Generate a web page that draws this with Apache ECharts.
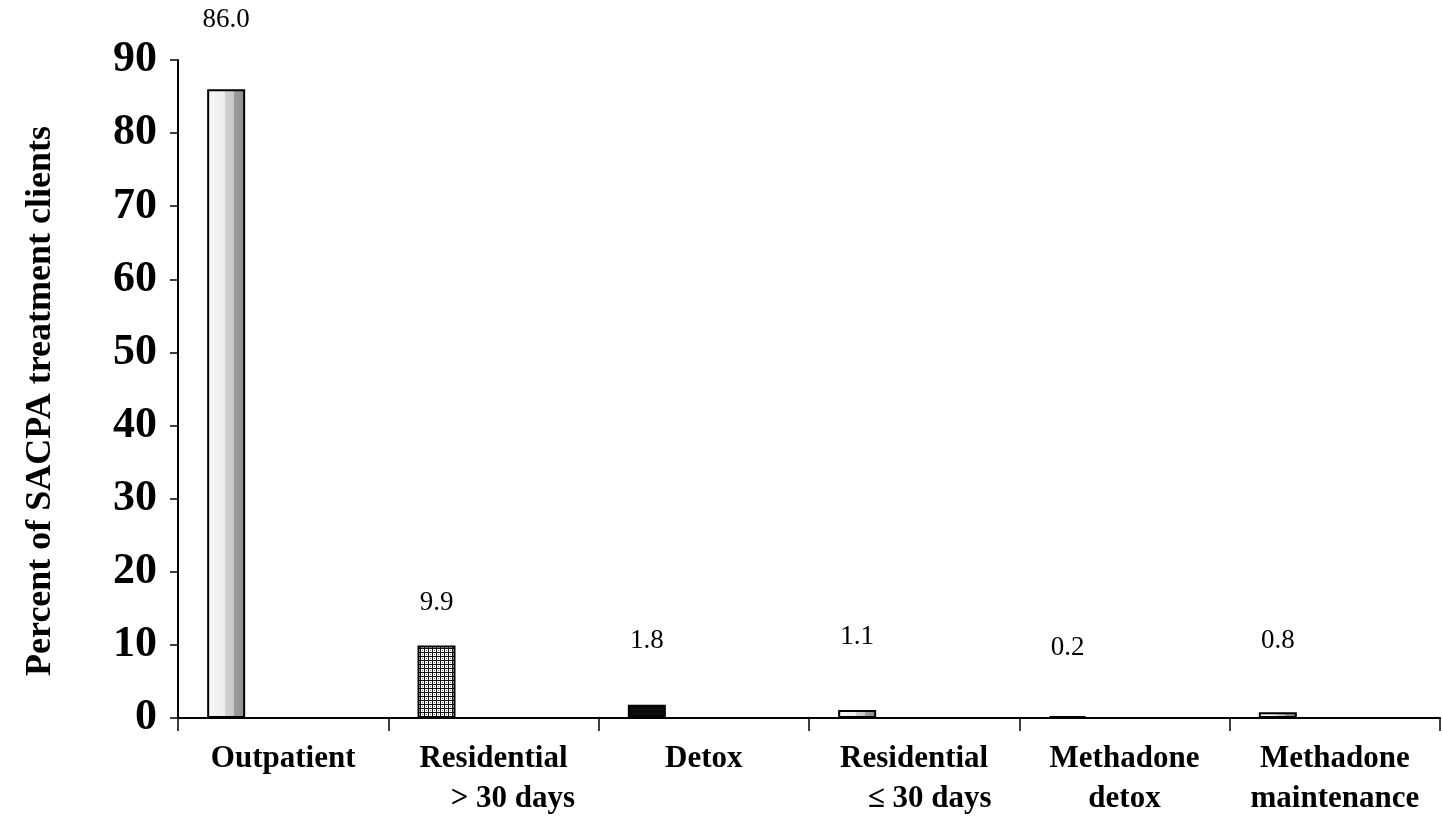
<!DOCTYPE html>
<html>
<head>
<meta charset="utf-8">
<script src="https://cdn.jsdelivr.net/npm/echarts@6/dist/echarts.min.js"></script>
<style>
html,body{margin:0;padding:0;background:#fff;}
#chart{width:1442px;height:817px;}
</style>
</head>
<body>
<div id="chart"></div>
<script>
// ---- data ----
const categories = ['Outpatient', 'Residential\n     > 30 days', 'Detox', 'Residential\n    \u2264 30 days', 'Methadone\ndetox', 'Methadone\nmaintenance'];
const percentValues = [86.0, 9.9, 1.8, 1.1, 0.2, 0.8];
const yTicks = [0, 10, 20, 30, 40, 50, 60, 70, 80, 90];

// ---- styles ----
const FONT = "'Liberation Serif','Times New Roman',serif";
function makePattern(kind) {
  const c = document.createElement('canvas');
  c.width = 4; c.height = 4;
  const g = c.getContext('2d');
  if (kind === 'grid') {
    g.fillStyle = '#ffffff'; g.fillRect(0, 0, 4, 4);
    g.fillStyle = '#111111';
    g.fillRect(0, 0, 4, 1);
    g.fillRect(0, 0, 1, 4);
    g.fillStyle = '#777777';
    g.fillRect(2, 2, 1, 1);
  } else if (kind === 'dark') {
    g.fillStyle = '#0a0a0a'; g.fillRect(0, 0, 4, 4);
    g.fillStyle = '#2a2a2a'; g.fillRect(1, 1, 1, 1);
  }
  return { image: c, repeat: 'repeat' };
}
const lightFill = {
  type: 'linear', x: 0, y: 0, x2: 1, y2: 0,
  colorStops: [
    { offset: 0, color: '#f7f7f7' },
    { offset: 0.47, color: '#eeeeee' },
    { offset: 0.47, color: '#d2d2d2' },
    { offset: 0.7, color: '#c8c8c8' },
    { offset: 0.7, color: '#9e9e9e' },
    { offset: 1, color: '#8c8c8c' }
  ]
};
const barFills = [lightFill, makePattern('grid'), makePattern('dark'), lightFill, makePattern('dark'), lightFill];
const labelDistances = [56, 29, 50, 60, 55, 58];

const chart = echarts.init(document.getElementById('chart'), null, { renderer: 'canvas' });

const mainData = percentValues.map((v, i) => ({
  value: v,
  itemStyle: { color: barFills[i], borderColor: '#000', borderWidth: 2 },
  label: { distance: labelDistances[i] }
}));
const empty = categories.map(() => null);

const option = {
  animation: false,
  backgroundColor: '#ffffff',
  grid: { left: 178, right: 2, top: 60, bottom: 99, containLabel: false, outerBoundsMode: 'none' },
  xAxis: {
    type: 'category',
    data: categories,
    boundaryGap: true,
    axisLine: { lineStyle: { color: '#000', width: 2 } },
    axisTick: { show: true, length: 13, interval: 0, lineStyle: { color: '#000', width: 1.5 } },
    axisLabel: {
      interval: 0, color: '#000', fontFamily: FONT, fontWeight: 'bold', fontSize: 31,
      lineHeight: 40, margin: 21, align: 'center'
    },
    splitLine: { show: false }
  },
  yAxis: {
    type: 'value',
    min: yTicks[0], max: yTicks[yTicks.length - 1], interval: 10,
    name: 'Percent of SACPA treatment clients',
    nameLocation: 'middle', nameRotate: 90, nameGap: 119,
    nameTextStyle: { color: '#000', fontFamily: FONT, fontWeight: 'bold', fontSize: 36, padding: [0, 24, 0, 0] },
    axisLine: { show: true, lineStyle: { color: '#000', width: 2 } },
    axisTick: { show: true, length: 8, lineStyle: { color: '#000', width: 1.5 } },
    axisLabel: { color: '#000', fontFamily: FONT, fontWeight: 'bold', fontSize: 44, margin: 21 },
    splitLine: { show: false }
  },
  series: [
    {
      type: 'bar', data: mainData, barWidth: 38, barGap: '0%', barMinHeight: 2,
      label: {
        show: true, position: 'top', color: '#000', fontFamily: FONT, fontSize: 27,
        formatter: p => p.value.toFixed(1)
      }
    },
    { type: 'bar', data: empty, barWidth: 38, barGap: '0%', silent: true },
    { type: 'bar', data: empty, barWidth: 38, barGap: '0%', silent: true },
    { type: 'bar', data: empty, barWidth: 38, barGap: '0%', silent: true }
  ]
};
chart.setOption(option);
</script>
</body>
</html>
